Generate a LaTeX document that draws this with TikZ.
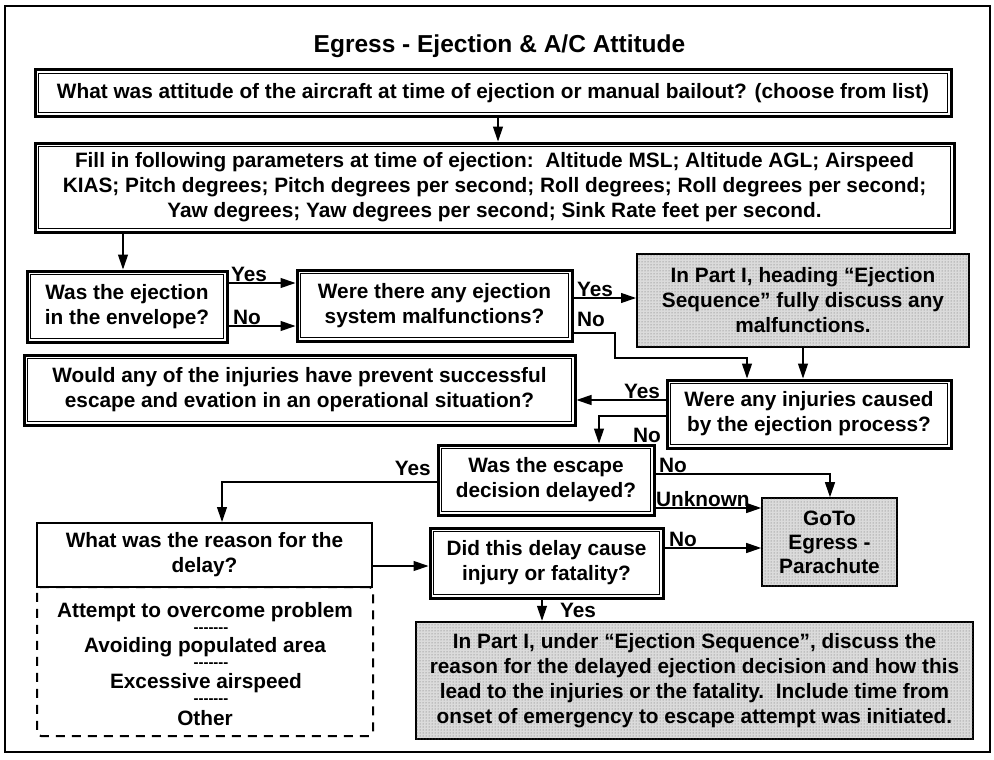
\documentclass[tikz,border=0pt]{standalone}
\usepackage{fontspec}
\setmainfont{Liberation Sans}
\usetikzlibrary{arrows.meta,patterns}
\newcommand{\hy}{\mbox{-}}
\begin{document}
\begin{tikzpicture}[x=1pt,y=-1pt,
  every node/.style={font=\fontsize{20.8}{25}\selectfont\bfseries},
  box/.style={draw, align=center, inner sep=0pt, fill=white},
  dbl/.style={box, line width=3pt},
  shadebox/.style={box, line width=2pt, fill=black!14, postaction={pattern=dots, pattern color=black!60}},
  arr/.style={line width=1.2pt, -{Triangle[length=15pt,width=10pt]}},
  lbl/.style={inner sep=0pt},
  sep/.style={font=\fontsize{15}{16}\selectfont\bfseries, inner sep=0pt},
]
\useasboundingbox (0,0) rectangle (994,760);
\node[draw, line width=1.5pt, minimum width=985pt, minimum height=746pt, inner sep=0pt] (frame) at (497.5,379) {};
\node[font=\fontsize{24.5}{28}\selectfont\bfseries] (title) at (499.5,46) {Egress - Ejection \& A/C Attitude};

\node[dbl, minimum width=916pt, minimum height=46pt] (b1) at (493,93) {What was attitude of the aircraft at time of ejection or manual bailout? (choose from list)};
\node[dbl, minimum width=919pt, minimum height=89pt] (b2) at (494.5,187.5) {Fill in following parameters at time of ejection:\ \ Altitude MSL; Altitude AGL; Airspeed\\KIAS; Pitch degrees; Pitch degrees per second; Roll degrees; Roll degrees per second;\\Yaw degrees; Yaw degrees per second; Sink Rate feet per second.};
\node[dbl, minimum width=200pt, minimum height=71pt] (b3) at (127,306.5) {Was the ejection\\in the envelope?};
\node[dbl, minimum width=275pt, minimum height=71pt] (b4) at (434.5,305.5) {Were there any ejection\\system malfunctions?};
\node[shadebox, minimum width=332pt, minimum height=93pt] (b5) at (803,300) {In Part I, heading “Ejection\\Sequence” fully discuss any\\malfunctions.};
\node[dbl, minimum width=551pt, minimum height=70pt] (b7) at (299.5,390) {Would any of the injuries have prevent successful\\escape and evation in an operational situation?};
\node[dbl, minimum width=284pt, minimum height=68pt] (b6) at (809,414) {Were any injuries caused\\by the ejection process?};
\node[dbl, minimum width=216pt, minimum height=70pt] (b8) at (546,480) {Was the escape\\decision delayed?};
\node[draw, line width=2pt, dash pattern=on 9pt off 7pt, rounded corners=4pt, minimum width=336pt, minimum height=149pt, inner sep=0pt] (lst) at (205,661.5) {};
\node[box, line width=2pt, minimum width=335pt, minimum height=64pt] (b9) at (204.5,555) {What was the reason for the\\delay?};
\node[lbl] (l1) at (205,612) {Attempt to overcome problem};
\node[sep] (l2) at (211,630) {\hy\hy\hy\hy\hy\hy\hy};
\node[lbl] (l3) at (205,647) {Avoiding populated area};
\node[sep] (l4) at (211,665) {\hy\hy\hy\hy\hy\hy\hy};
\node[lbl] (l5) at (206,683) {Excessive airspeed};
\node[sep] (l6) at (211,701) {\hy\hy\hy\hy\hy\hy\hy};
\node[lbl] (l7) at (205,718) {Other};
\node[shadebox, line width=1.6pt, minimum width=135pt, minimum height=88pt, font=\fontsize{20.8}{24}\selectfont\bfseries] (b10) at (829.5,542) {GoTo\\Egress -\\Parachute};
\node[dbl, minimum width=233pt, minimum height=70pt] (b11) at (546.5,563) {Did this delay cause\\injury or fatality?};
\node[shadebox, line width=2.5pt, minimum width=557pt, minimum height=117pt] (b12) at (694.5,680.5) {In Part I, under “Ejection Sequence”, discuss the\\reason for the delayed ejection decision and how this\\lead to the injuries or the fatality.\ \ Include time from\\onset of emergency to escape attempt was initiated.};

\foreach \n in {b1,b2,b3,b4,b6,b7,b8,b11}
  {\draw[line width=0.8pt] ([xshift=5pt,yshift=-5pt]\n.north west) rectangle ([xshift=-5pt,yshift=5pt]\n.south east);}

% connectors
\coordinate (c1) at ([xshift=5pt]b1.south);
\draw[arr] (c1) -- (c1 |- b2.north);
\coordinate (c2) at ([xshift=-4pt]b3.north);
\draw[arr] (c2 |- b2.south) -- (c2);
\draw[arr] (b3.east |- 0,283) node[lbl, anchor=base west, xshift=2pt, yshift=2pt] (ly1) {Yes} -- (b4.west |- 0,283);
\draw[arr] (b3.east |- 0,326) node[lbl, anchor=base west, xshift=4pt, yshift=2pt] (ln1) {No} -- (b4.west |- 0,326);
\draw[arr] (b4.east |- 0,298) node[lbl, anchor=base west, xshift=3pt, yshift=2pt] (ly2) {Yes} -- (b5.west |- 0,298);
\node[lbl, anchor=base west] (ln2) at (577,326) {No};
\draw[arr] (b4.east |- 0,333) -- (615,333) -- (615,358) -- (747,358) -- (747,0 |- b6.north);
\draw[arr] (b5.south) -- (b5.south |- b6.north);
\draw[arr] (b6.west |- 0,400) node[lbl, anchor=base east, xshift=-5pt, yshift=2pt] (ly3) {Yes} -- (b7.east |- 0,400);
\node[lbl, anchor=base east] (ln3) at (661,442) {No};
\draw[arr] (b6.west |- 0,416) -- (599,416) -- (599,0 |- b8.north);
\node[lbl, anchor=base east] (ly4) at (431,475) {Yes};
\draw[arr] (b8.west |- 0,482) -- (222,482) -- (222,0 |- b9.north);
\draw[arr] (b8.east |- 0,474) node[lbl, anchor=base west, xshift=3pt, yshift=2pt] (ln4) {No} -- (830,474) -- (830,0 |- b10.north);
\draw[arr] (b8.east |- 0,508) node[lbl, anchor=base west, xshift=0pt, yshift=2pt] (lu) {Unknown} -- (b10.west |- 0,508);
\draw[arr] (b9.east |- 0,566) -- (b11.west |- 0,566);
\draw[arr] (b11.east |- 0,548) node[lbl, anchor=base west, xshift=4pt, yshift=2pt] (ln5) {No} -- (b10.west |- 0,548);
\draw[arr] (542,0 |- b11.south) -- (542,0 |- b12.north);
\node[lbl, anchor=base west] (ly5) at (560,617) {Yes};
\end{tikzpicture}
\end{document}
